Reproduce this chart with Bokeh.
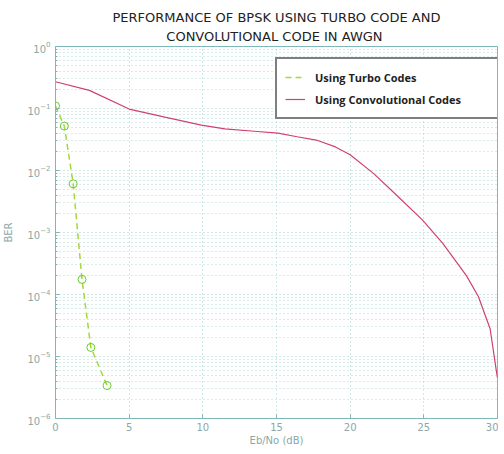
from bokeh.plotting import figure
from bokeh.models import Legend, LegendItem, FixedTicker, Title
from bokeh.embed import file_html
from bokeh.resources import INLINE

# Data
turbo_ebno = [0.0, 0.6, 1.2, 1.8, 2.4, 3.5]
turbo_ber = [1.1e-1, 5.2e-2, 6.1e-3, 1.75e-4, 1.4e-5, 3.4e-6]

conv_ebno = [0, 2.3, 5, 7.5, 9.9, 11.5, 13.5, 15.1, 16.4, 17.7, 19, 20, 21.6, 23.1,
             24.9, 26.3, 27.9, 28.7, 29.5, 29.9, 30]
conv_ber = [0.27, 0.196, 0.098, 0.072, 0.054, 0.047, 0.043, 0.040, 0.035, 0.031, 0.024,
            0.018, 8.9e-3, 4.1e-3, 1.6e-3, 6.6e-4, 2.0e-4, 9.3e-5, 2.8e-5, 6.3e-6, 4.5e-6]

x_ticks = [0, 5, 10, 15, 20, 25, 30]
y_ticks = [1e-6, 1e-5, 1e-4, 1e-3, 1e-2, 1e-1, 1e0]

title_line1 = "PERFORMANCE OF BPSK USING TURBO CODE AND"
title_line2 = "CONVOLUTIONAL CODE  IN AWGN"

axis_col = "#7fb8b8"
grid_col = "#9fd0d0"

p = figure(title=None, y_axis_type="log",
           x_range=(0, 30), y_range=(1e-6, 1e0),
           output_backend="svg", toolbar_location=None,
           min_border_left=50, min_border_right=1, min_border_top=46, min_border_bottom=26)
p.frame_width = 442
p.frame_height = 372

t2 = Title(text=title_line2, align="center", offset=-30, text_font="DejaVu Sans",
           text_font_size="13px", text_font_style="normal", text_color="#222222", standoff=5)
t1 = Title(text=title_line1, align="center", offset=5, text_font="DejaVu Sans",
           text_font_size="13px", text_font_style="normal", text_color="#222222", standoff=0)
p.add_layout(t2, "above")
p.add_layout(t1, "above")

p.xaxis.ticker = FixedTicker(ticks=x_ticks)
p.yaxis.ticker = FixedTicker(ticks=y_ticks, minor_ticks=[m * d for d in y_ticks[:-1] for m in range(2, 10)])
p.xaxis.axis_label = "Eb/No (dB)"
p.yaxis.axis_label = "BER"
for ax in (p.xaxis, p.yaxis):
    ax.axis_line_color = axis_col
    ax.major_tick_line_color = axis_col
    ax.minor_tick_line_color = axis_col
    ax.major_tick_in = 4
    ax.major_tick_out = 0
    ax.minor_tick_in = 2
    ax.minor_tick_out = 0
    ax.major_label_text_color = "#8aa8a8"
    ax.major_label_text_font = "DejaVu Sans"
    ax.major_label_text_font_size = "10px"
    ax.axis_label_text_color = "#8aa8a8"
    ax.axis_label_text_font = "DejaVu Sans"
    ax.axis_label_text_font_size = "10px"
    ax.axis_label_text_font_style = "normal"
p.xaxis.minor_tick_line_color = None
p.xaxis.major_label_standoff = 4
p.yaxis.axis_label_standoff = 10
p.xaxis.axis_label_standoff = 1

p.outline_line_color = axis_col
p.xgrid.grid_line_color = grid_col
p.xgrid.grid_line_dash = "1 3"
p.ygrid.grid_line_color = grid_col
p.ygrid.grid_line_dash = "1 3"
p.ygrid.minor_grid_line_color = grid_col
p.ygrid.minor_grid_line_dash = "1 3"
p.ygrid.minor_grid_line_alpha = 0.8

t_line = p.line(turbo_ebno, turbo_ber, line_color="#a6d63a", line_width=1.5, line_dash="6 4")
p.scatter(turbo_ebno, turbo_ber, marker="circle", size=8, fill_color=None,
          line_color="#66cc33", line_width=1)
c_line = p.line(conv_ebno, conv_ber, line_color="#d04070", line_width=1.2)

legend = Legend(items=[LegendItem(label="Using Turbo Codes", renderers=[t_line]),
                       LegendItem(label="Using Convolutional Codes", renderers=[c_line])],
                location=(220, 299))
legend.border_line_color = "black"
legend.border_line_width = 2
legend.label_text_font = "Open Sans"
legend.label_text_font_size = "11px"
legend.label_text_font_style = "bold"
legend.label_text_color = "#222222"
legend.glyph_width = 20
legend.label_standoff = 10
legend.label_width = 187
legend.label_height = 14
legend.padding = 8
legend.spacing = 2
legend.margin = 0
legend.background_fill_alpha = 1.0
p.add_layout(legend, "center")

open("out.html", "w").write(file_html(p, INLINE))
